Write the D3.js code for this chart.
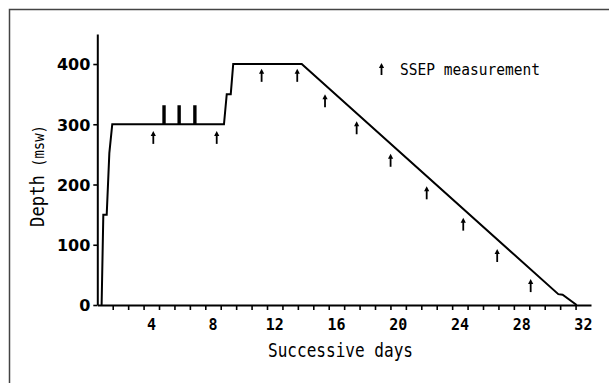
<!DOCTYPE html>
<html>
<head>
<meta charset="utf-8">
<script src="https://cdn.jsdelivr.net/npm/d3@7"></script>
<style>
  body { margin: 0; background: #fff; }
  svg { display: block; }
</style>
</head>
<body>
<div id="chart"></div>
<script>
// dive profile (day, depth in msw)
const profileDays  = [0.28, 0.39, 0.61, 0.78, 0.97, 4.28, 4.28, 4.37, 4.37, 5.26, 5.26, 5.35, 5.35, 6.28, 6.28, 6.37, 6.37, 8.21, 8.39, 8.65, 8.81, 13.25, 29.88, 30.16, 31.07];
const profileDepth = [0, 150, 150, 252, 300, 300, 330, 330, 300, 300, 330, 330, 300, 300, 330, 330, 300, 300, 350, 350, 400, 400, 18, 17, 0];

// SSEP measurement arrows (day, depth at arrow tip)
const ssepDays  = [3.63, 7.74, 10.65, 12.96, 14.76, 16.81, 19.01, 21.35, 23.72, 25.92, 28.09];
const ssepDepth = [289, 289, 392, 392, 350, 305, 251, 197, 145, 93, 43];

const xLabels = [4, 8, 12, 16, 20, 24, 28, 32];
const yLabels = [0, 100, 200, 300, 400];

const width = 609, height = 383;

const svg = d3.select("#chart").append("svg")
    .attr("width", width)
    .attr("height", height);

// outer frame (only top and left edges are visible)
svg.append("path")
    .attr("d", "M9.5,383 L9.5,9.5 L609,9.5")
    .attr("fill", "none")
    .attr("stroke", "#444")
    .attr("stroke-width", 1.5);

const x = d3.scaleLinear().domain([0, 32]).range([97.3, 591]);
const y = d3.scaleLinear().domain([0, 450]).range([305, 33.9]);

// x axis
const xAxis = svg.append("g")
    .attr("transform", `translate(0,${y(0)})`)
    .call(d3.axisBottom(x)
        .tickValues(d3.range(1, 32))
        .tickSize(5)
        .tickSizeOuter(0)
        .tickFormat(""));
xAxis.select(".domain").attr("stroke-width", 2);
xAxis.selectAll(".tick line").attr("stroke-width", 1.6);

svg.append("g").selectAll("text")
    .data(xLabels)
    .enter().append("text")
    .attr("x", d => x(d) - 7.6)
    .attr("y", 329.5)
    .attr("text-anchor", "middle")
    .attr("font-family", "DejaVu Sans Mono")
    .attr("font-weight", "bold")
    .attr("font-size", 15)
    .text(d => d);

// y axis
const yAxis = svg.append("g")
    .attr("transform", `translate(${x(0)},0)`)
    .call(d3.axisLeft(y)
        .tickValues(yLabels)
        .tickSize(4)
        .tickSizeOuter(0)
        .tickPadding(3));
yAxis.select(".domain").attr("stroke-width", 2);
yAxis.selectAll(".tick line").attr("stroke-width", 1.6);
yAxis.selectAll(".tick text")
    .attr("font-family", "DejaVu Sans")
    .attr("font-weight", "bold")
    .attr("font-size", 16)
    .attr("dy", "0.36em");

// axis titles
svg.append("text")
    .attr("x", 268)
    .attr("y", 357)
    .attr("font-family", "DejaVu Sans Mono")
    .attr("font-size", 20)
    .attr("textLength", 145)
    .attr("lengthAdjust", "spacingAndGlyphs")
    .text("Successive days");

const yTitle = svg.append("g")
    .attr("transform", "translate(43.5,227) rotate(-90)");
yTitle.append("text")
    .attr("x", 0)
    .attr("y", 0)
    .attr("font-family", "DejaVu Sans Mono")
    .attr("font-size", 20)
    .attr("textLength", 52)
    .attr("lengthAdjust", "spacingAndGlyphs")
    .text("Depth");
yTitle.append("text")
    .attr("x", 60)
    .attr("y", 0)
    .attr("font-family", "DejaVu Sans Mono")
    .attr("font-size", 15)
    .attr("textLength", 42)
    .attr("lengthAdjust", "spacingAndGlyphs")
    .text("(msw)");

// profile line
const line = d3.line()
    .x((d, i) => x(profileDays[i]))
    .y(d => y(d));

svg.append("path")
    .datum(profileDepth)
    .attr("d", line)
    .attr("fill", "none")
    .attr("stroke", "#000")
    .attr("stroke-width", 2)
    .attr("stroke-linejoin", "miter");

// arrows
function arrow(g, cx, top, len) {
    g.append("path")
        .attr("d", `M${cx},${top + len} L${cx},${top + 3}`)
        .attr("stroke", "#000")
        .attr("stroke-width", 1.8);
    g.append("path")
        .attr("d", `M${cx - 2.6},${top + 5} L${cx},${top} L${cx + 2.6},${top + 5} Z`)
        .attr("fill", "#000");
}

const arrows = svg.append("g");
ssepDays.forEach((d, i) => arrow(arrows, x(d), y(ssepDepth[i]), 13));

// legend
arrow(svg, 381.5, 63, 12);
svg.append("text")
    .attr("x", 400)
    .attr("y", 75)
    .attr("font-family", "DejaVu Sans Mono")
    .attr("font-size", 15)
    .attr("textLength", 140)
    .attr("lengthAdjust", "spacingAndGlyphs")
    .text("SSEP measurement");
</script>
</body>
</html>
